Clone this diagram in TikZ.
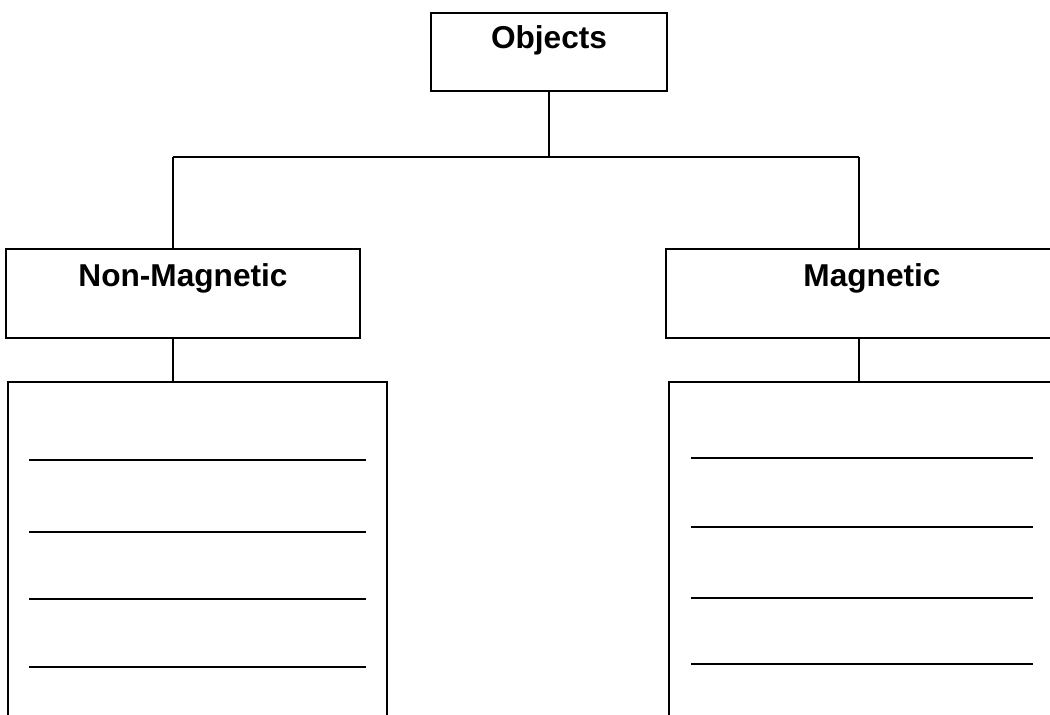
\documentclass[tikz,border=0pt]{standalone}
\usepackage{fontspec}
\setmainfont{Liberation Sans}
\usetikzlibrary{positioning}
\tikzset{
  headbox/.style={draw, line width=1.4pt, inner sep=0pt, font=\bfseries\fontsize{18}{21}\selectfont},
  listbox/.style={draw, line width=1.4pt, inner sep=0pt},
  link/.style={line width=1.4pt},
}
\begin{document}
\begin{tikzpicture}[x=0.02cm, y=-0.02cm]
\useasboundingbox (0,0) rectangle (1050,715);
\clip (0,0) rectangle (1050,715);
\node[headbox, minimum width=4.72cm, text height=0.72cm, text depth=0.84cm] (objects) at (549,52) {Objects};
\node[headbox, minimum width=7.08cm, text height=0.76cm, text depth=1.02cm] (nonmag) at (183,293.5) {Non-Magnetic};
\node[headbox, minimum width=8.24cm, text height=0.76cm, text depth=1.02cm] (mag) at (872,293.5) {Magnetic};
\node[listbox, minimum width=7.58cm, minimum height=7cm] (nonmaglist) at (197.5,557) {};
\node[listbox, minimum width=8cm, minimum height=7cm] (maglist) at (869,557) {};
\coordinate (split) at (549,157);
\coordinate (jl) at (173,157);
\coordinate (jr) at (859,157);
\draw[link] (objects) -- (split);
\draw[link] (jl) -- (jr);
\draw[link] (jl) -- (jl |- nonmag.north);
\draw[link] (jr) -- (jr |- mag.north);
\draw[link] (jl |- nonmag.south) -- (jl |- nonmaglist.north);
\draw[link] (jr |- mag.south) -- (jr |- maglist.north);
\foreach \ya/\yb in {460/458, 532/527, 599/598, 667/664} {
  \draw[link] (29,\ya) -- (366,\ya);
  \draw[link] (691,\yb) -- (1033,\yb);
}
\end{tikzpicture}
\end{document}
